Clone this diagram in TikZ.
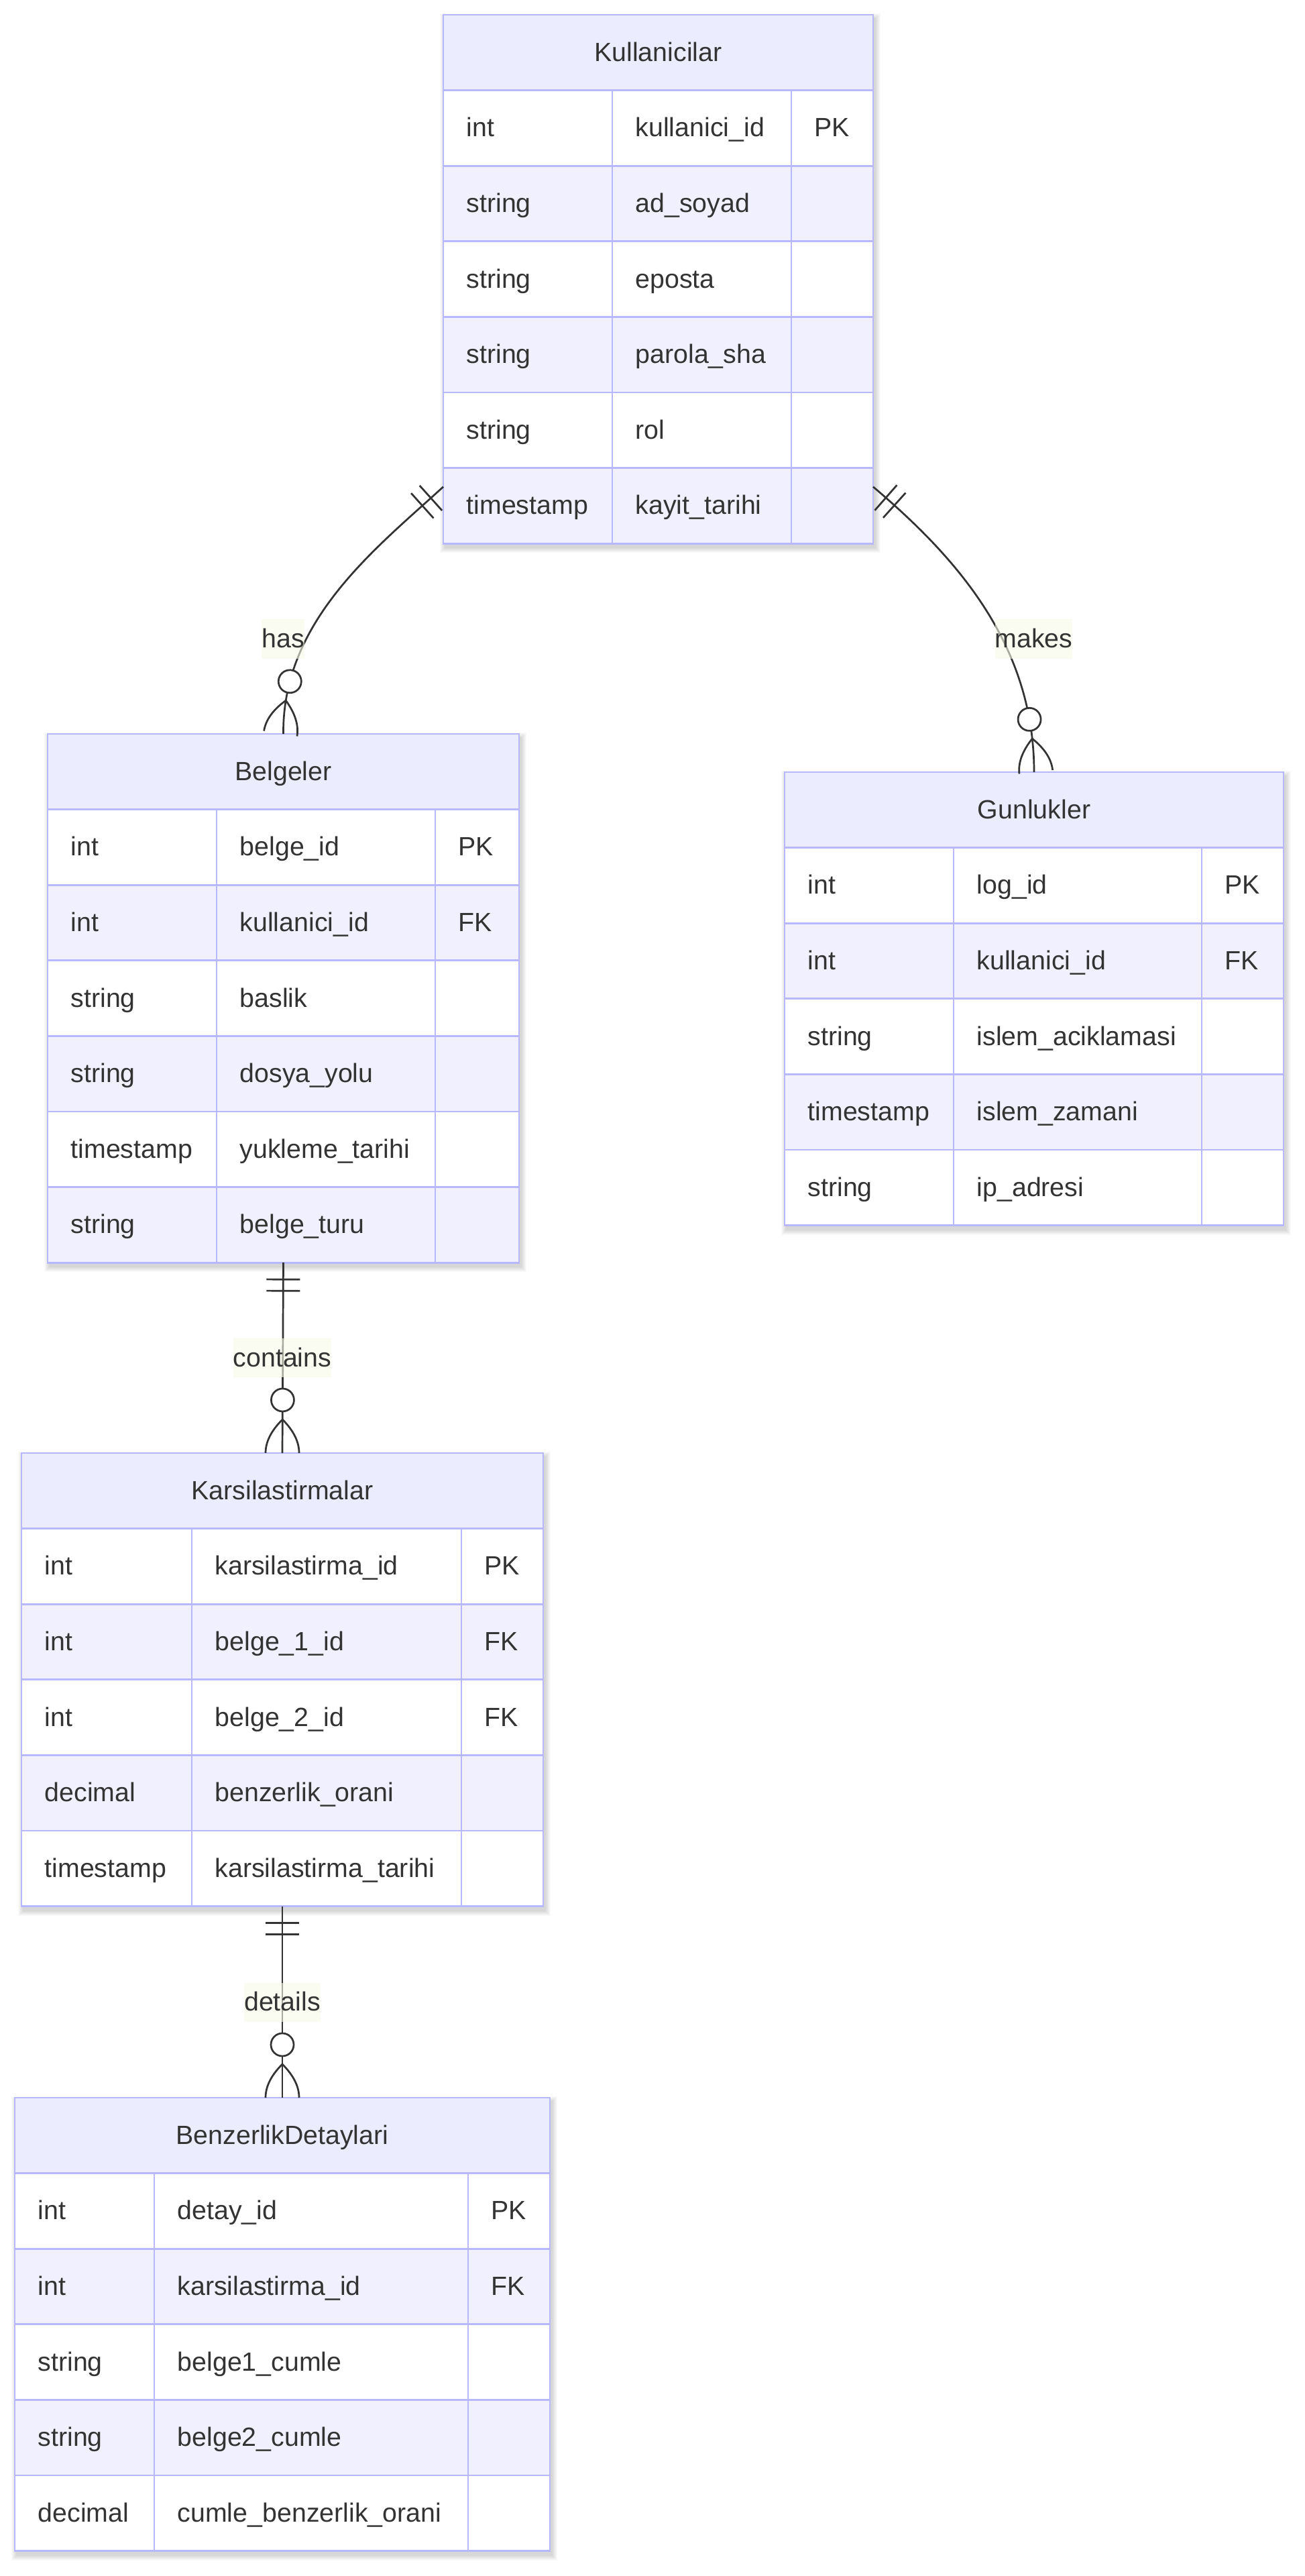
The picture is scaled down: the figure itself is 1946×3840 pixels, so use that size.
\documentclass[tikz,border=0pt]{standalone}
\usepackage{fontspec}
\setmainfont{Liberation Sans}
\usetikzlibrary{decorations.markings}

\definecolor{ertext}{HTML}{333333}
\definecolor{erborder}{RGB}{184,184,255}
\definecolor{erhead}{RGB}{236,236,255}
\definecolor{errow}{RGB}{241,240,255}
\definecolor{erline}{HTML}{333333}
\definecolor{erlabel}{RGB}{247,250,233}

\newcommand\erfont{\fontsize{11.18pt}{13.4pt}\selectfont}
\def\rowh{112.6}

\tikzset{
  cell/.style={inner sep=0pt, anchor=base west, text=ertext, font=\erfont},
  headtext/.style={inner sep=0pt, anchor=base, text=ertext, font=\erfont},
  frame/.style={draw=erborder, line width=0.77pt},
  rel/.style={draw=erline, line width=0.77pt},
  tickline/.style={draw=erline, line width=0.77pt},
  rellabel/.style={fill=erlabel, fill opacity=0.6, text opacity=1, text=ertext,
    font=\erfont, inner sep=0pt, text height=11.95pt, text depth=4.55pt},
  % exactly one at the start, zero or more at the end
  onetomany/.style={postaction={decorate}, decoration={markings,
    mark=at position 0.25cm with {\draw[tickline] (0,-25) -- (0,25);},
    mark=at position 0.42cm with {\draw[tickline] (0,-25) -- (0,25);},
    mark=at position -0.79cm with {\draw[tickline, fill=white] (0,0) circle[radius=0.17cm];},
    mark=at position -0.5cm with {
      \draw[tickline] (0,0) .. controls (16.7,-16.7) and (33.3,-25) .. (50,-25);
      \draw[tickline] (0,0) .. controls (16.7,16.7) and (33.3,25) .. (50,25);}
  }}
}

% #1 name, #2 left, #3 top, #4 first divider, #5 second divider,
% #6 right, #7 number of rows, #8 title, #9 rows type/name/key
\newcommand\erentity[9]{%
  \pgfmathsetmacro\eL{#2}\pgfmathsetmacro\eT{#3}\pgfmathsetmacro\eR{#6}%
  \pgfmathsetmacro\eB{#3+(#7+1)*\rowh}%
  \foreach \k in {1,...,8}{%
    \fill[black, fill opacity=0.018] ({\eL+3-\k},{\eT+6-\k}) rectangle ({\eR+3+\k},{\eB+6+\k});}
  \fill[erhead] (\eL,\eT) rectangle (\eR,{\eT+\rowh});
  \node[headtext] (#1-title) at ({(\eL+\eR)/2},{\eT+\rowh/2+13}) {#8};
  \foreach [count=\i] \ty/\nm/\ky in {#9}{%
    \pgfmathsetmacro\yt{\eT+\i*\rowh}%
    \pgfmathsetmacro\yb{\yt+\rowh}%
    \pgfmathsetmacro\ybase{\yt+\rowh/2+13}%
    \ifodd\i\relax
      \fill[white] (\eL,\yt) rectangle (\eR,\yb);
    \else
      \fill[errow] (\eL,\yt) rectangle (\eR,\yb);
    \fi
    \draw[frame] (\eL,\yt) -- (\eR,\yt);
    \node[cell] (#1-t\i) at ({\eL+34},\ybase) {\ty};
    \node[cell] (#1-n\i) at ({#4+34},\ybase) {\nm};
    \node[cell] (#1-k\i) at ({#5+34},\ybase) {\ky};
  }
  \draw[frame] (#4,{\eT+\rowh}) -- (#4,\eB);
  \draw[frame] (#5,{\eT+\rowh}) -- (#5,\eB);
  \node[frame, inner sep=0pt, outer sep=0pt,
    minimum width={(\eR-\eL)*0.01cm}, minimum height={(\eB-\eT)*0.01cm}]
    (#1) at ({(\eL+\eR)/2},{(\eT+\eB)/2}) {};
}

\begin{document}
\begin{tikzpicture}[x=0.01cm, y=-0.01cm]
\useasboundingbox (0,0) rectangle (1946,3840);
\fill[white] (0,0) rectangle (1946,3840);

\erentity{kul}{661}{22}{913}{1180}{1302}{6}{Kullanicilar}{%
  int/kullanici\_id/PK, string/ad\_soyad/{}, string/eposta/{},
  string/parola\_sha/{}, string/rol/{}, timestamp/kayit\_tarihi/{}}

\erentity{bel}{71}{1094}{323}{649}{774}{6}{Belgeler}{%
  int/belge\_id/PK, int/kullanici\_id/FK, string/baslik/{},
  string/dosya\_yolu/{}, timestamp/yukleme\_tarihi/{}, string/belge\_turu/{}}

\erentity{gun}{1170}{1151}{1422}{1792}{1914}{5}{Gunlukler}{%
  int/log\_id/PK, int/kullanici\_id/FK, string/islem\_aciklamasi/{},
  timestamp/islem\_zamani/{}, string/ip\_adresi/{}}

\erentity{kar}{32}{2166}{286}{688}{810}{5}{Karsilastirmalar}{%
  int/karsilastirma\_id/PK, int/belge\_1\_id/FK, int/belge\_2\_id/FK,
  decimal/benzerlik\_orani/{}, timestamp/karsilastirma\_tarihi/{}}

\erentity{ben}{22}{3127}{230}{698}{820}{5}{BenzerlikDetaylari}{%
  int/detay\_id/PK, int/karsilastirma\_id/FK, string/belge1\_cumle/{},
  string/belge2\_cumle/{}, decimal/cumle\_benzerlik\_orani/{}}

% relationships
\draw[rel, onetomany] (kul.224) .. controls (560,818) and (421,925) .. (bel.north);
\draw[rel, onetomany] (kul.316) .. controls (1425,830) and (1542,960) .. (gun.north);
\draw[rel, onetomany] (bel.south) -- (kar.north);
\draw[rel, onetomany] (kar.south) -- (ben.north);

\node[rellabel] (has) at (422,952.5) {has};
\node[rellabel] (makes) at (1541.5,952.5) {makes};
\node[rellabel] (contains) at (421,2024) {contains};
\node[rellabel] (details) at (421,2984.5) {details};
\end{tikzpicture}
\end{document}
